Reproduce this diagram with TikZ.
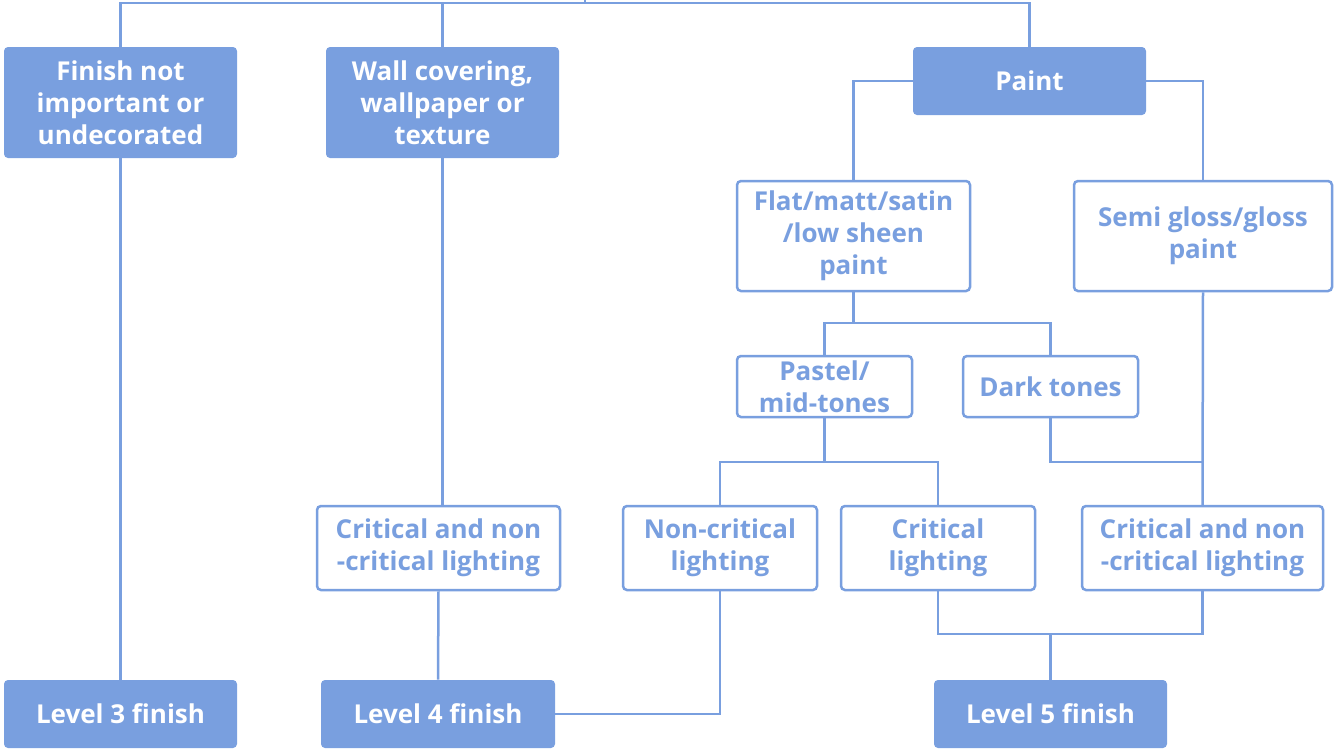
\documentclass[tikz,border=0pt]{standalone}
\usepackage{fontspec}
\setmainfont{Open Sans}
\definecolor{bl}{RGB}{121,159,223}
\begin{document}
\begin{tikzpicture}[x=0.5pt,y=-0.5pt,
  box/.style={rounded corners=2pt,inner sep=0pt,align=center,
    font=\fontsize{13}{16}\selectfont\bfseries},
  solid box/.style={box,fill=bl,text=white},
  line box/.style={box,draw=bl,line width=1.25pt,fill=white,text=bl},
  conn/.style={draw=bl,line width=1.25pt}]
\useasboundingbox (0,0) rectangle (1335,751);
% top row
\node[solid box,minimum width=116.5pt,minimum height=55.5pt] (fin) at (120.5,102.5) {Finish not\\important or\\undecorated};
\node[solid box,minimum width=116.5pt,minimum height=55.5pt] (wall) at (442.5,102.5) {Wall covering,\\wallpaper or\\texture};
\node[solid box,minimum width=116.5pt,minimum height=34pt] (paint) at (1029.5,81) {Paint};
% paint types
\node[line box,minimum width=116.5pt,minimum height=55pt] (flat) at (853.5,236) {Flat/matt/satin\\/low sheen\\paint};
\node[line box,minimum width=129pt,minimum height=55pt] (semi) at (1203,236) {Semi gloss/gloss\\paint};
% tones
\node[line box,minimum width=87.5pt,minimum height=30.5pt] (pastel) at (824.5,386.5) {Pastel/\\mid-tones};
\node[line box,minimum width=87.5pt,minimum height=30.5pt] (dark) at (1050.5,386.5) {Dark tones};
% lighting
\node[line box,minimum width=121.5pt,minimum height=42pt] (cnl) at (438.5,548) {Critical and non\\-critical lighting};
\node[line box,minimum width=97pt,minimum height=42pt] (noncrit) at (720,548) {Non-critical\\lighting};
\node[line box,minimum width=97pt,minimum height=42pt] (crit) at (938,548) {Critical\\lighting};
\node[line box,minimum width=120.5pt,minimum height=42pt] (cnr) at (1202.5,548) {Critical and non\\-critical lighting};
% levels
\node[solid box,minimum width=116.5pt,minimum height=34pt] (l3) at (120.5,714) {Level 3 finish};
\node[solid box,minimum width=117pt,minimum height=34pt] (l4) at (438,714) {Level 4 finish};
\node[solid box,minimum width=116.5pt,minimum height=34pt] (l5) at (1050.5,714) {Level 5 finish};
% junction coordinates
\coordinate (top) at (585,3);
\coordinate (topend) at (585,0);
\coordinate (j1) at (853.5,323);
\coordinate (j2) at (824.5,462);
\coordinate (j3) at (1050.5,634);
% connectors
\draw[conn] (fin.north) |- (top) -| (paint.north);
\draw[conn] (top) -- (topend);
\draw[conn] (wall.north) -- (wall.north |- top);
\draw[conn] (paint.west) -| (flat.north);
\draw[conn] (paint.east) -| (semi.north);
\draw[conn] (flat.south) -- (j1);
\draw[conn] (pastel.north) |- (j1) -| (dark.north);
\draw[conn] (pastel.south) -- (j2);
\draw[conn] (noncrit.north) |- (j2) -| (crit.north);
\draw[conn] (dark.south) |- (cnr.north |- j2);
\draw[conn] (semi.south) -- (cnr.north);
\draw[conn] (fin.south) -- (l3.north);
\draw[conn] (wall.south) -- (wall.south |- cnl.north);
\draw[conn] (cnl.south) -- (l4.north);
\draw[conn] (noncrit.south) |- (l4.east);
\draw[conn] (crit.south) |- (j3) -| (cnr.south);
\draw[conn] (l5.north) -- (j3);
\end{tikzpicture}
\end{document}
